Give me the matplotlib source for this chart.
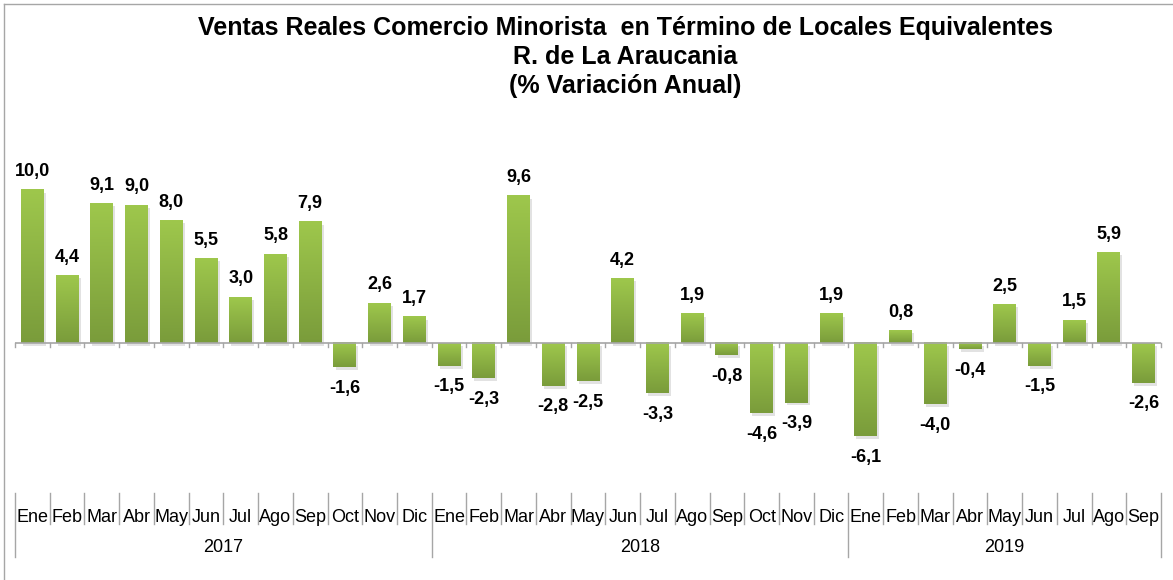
import numpy as np
import matplotlib
matplotlib.use("Agg")
from matplotlib import pyplot as plt
from matplotlib import patheffects as pe
from matplotlib.colors import LinearSegmentedColormap
import matplotlib.transforms as mtransforms

plt.rcParams['font.family'] = ['Liberation Sans', 'DejaVu Sans']

# data
years = ['2017', '2018', '2019']
months = ['Ene', 'Feb', 'Mar', 'Abr', 'May', 'Jun', 'Jul', 'Ago', 'Sep', 'Oct', 'Nov', 'Dic']
n_months = [12, 12, 9]
values = [10.0, 4.4, 9.1, 9.0, 8.0, 5.5, 3.0, 5.8, 7.9, -1.6, 2.6, 1.7,
          -1.5, -2.3, 9.6, -2.8, -2.5, 4.2, -3.3, 1.9, -0.8, -4.6, -3.9, 1.9,
          -6.1, 0.8, -4.0, -0.4, 2.5, -1.5, 1.5, 5.9, -2.6]
labels = [m for n in n_months for m in months[:n]]

W, H = 1173, 580
fig = plt.figure(figsize=(W / 100, H / 100), dpi=100)
# axes in pixel coords: left 15, right 1161, top 130, bottom 490
ax = fig.add_axes([15 / W, 1 - 490 / H, (1161 - 15) / W, (490 - 130) / H])
ax.axis('off')

cmap = LinearSegmentedColormap.from_list('g', ['#9ec74c', '#7a9c3b'])
grad = np.linspace(0, 1, 64).reshape(-1, 1)

x = np.arange(len(values)) + 0.5
bars = ax.bar(x, values, width=0.66, color='#8ab043', zorder=2,
              path_effects=[pe.SimplePatchShadow(offset=(1.5, -2), shadow_rgbFace='#d0d0d0', alpha=0.6)])
for b, v in zip(bars, values):
    x0 = b.get_x()
    x1 = x0 + b.get_width()
    lo, hi = min(0, v), max(0, v)
    ax.imshow(grad, cmap=cmap, aspect='auto', extent=(x0, x1, lo, hi),
              origin='upper', zorder=3, interpolation='bilinear')
    txt = f"{v:.1f}".replace('.', ',')
    xc = b.get_x() + b.get_width() / 2
    if v >= 0:
        ax.annotate(txt, (xc, v), xytext=(0, 7), textcoords='offset points',
                    ha='center', va='bottom', fontsize=13, fontweight='bold', zorder=5)
    else:
        ax.annotate(txt, (xc, v), xytext=(0, -9), textcoords='offset points',
                    ha='center', va='top', fontsize=13, fontweight='bold', zorder=5)
ax.set_xlim(0, len(values))
ax.set_ylim(-9.6, 13.9)

# zero line with small ticks between categories
ax.axhline(0, color='#a6a6a6', lw=1.2, zorder=4)
for i in range(len(values) + 1):
    ax.plot([i, i], [0, -0.28], color='#a6a6a6', lw=1, zorder=6, clip_on=False)

# category table below
tr = mtransforms.blended_transform_factory(ax.transData, fig.transFigure)
y_top = 1 - 493 / H
y_mon = 1 - 524 / H
y_yr = 1 - 557 / H
year_bounds = list(np.cumsum([0] + n_months))
for i in range(len(values) + 1):
    y_end = y_yr if i in year_bounds else y_mon
    fig.add_artist(plt.Line2D([i, i], [y_top, y_end], transform=tr, color='#a6a6a6', lw=1))
for i, lab in enumerate(labels):
    fig.text(i + 0.5, 1 - 517 / H, lab, transform=tr, ha='center', va='center', fontsize=13)
for k, yr in enumerate(years):
    c = (year_bounds[k] + year_bounds[k + 1]) / 2
    fig.text(c, 1 - 547 / H, yr, transform=tr, ha='center', va='center', fontsize=13)

# outer border (left and top)
fig.add_artist(plt.Line2D([4 / W, 4 / W], [0, 1 - 4 / H], color='#a6a6a6', lw=1))
fig.add_artist(plt.Line2D([4 / W, 1], [1 - 4 / H, 1 - 4 / H], color='#a6a6a6', lw=1))

# title
title = ('Ventas Reales Comercio Minorista  en Término de Locales Equivalentes\n'
         'R. de La Araucania\n(% Variación Anual)')
fig.text(625 / W, 1 - 57 / H, title, ha='center', va='center', fontsize=18,
         fontweight='bold', linespacing=1.28)

fig.savefig('out.png', dpi=100)
